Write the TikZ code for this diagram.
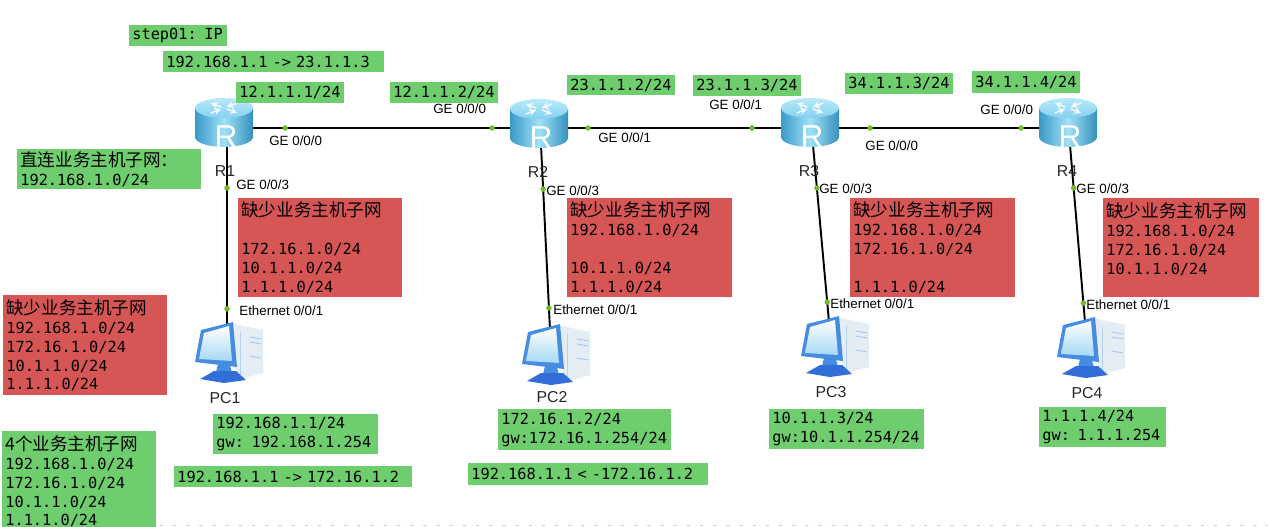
\documentclass[tikz,border=0pt]{standalone}
\usepackage{fontspec}
\setmainfont{Liberation Sans}
\newfontfamily\ipfont{DejaVu Sans Mono}
\newfontfamily\cjk[Scale=1.15]{Noto Sans CJK SC}
\definecolor{boxgreen}{RGB}{110,206,110}
\definecolor{boxred}{RGB}{214,85,85}
\definecolor{dotgreen}{RGB}{110,190,40}
\definecolor{rblue}{RGB}{64,170,222}
\definecolor{rlight}{RGB}{160,225,248}
\definecolor{rtop}{RGB}{185,234,250}
\definecolor{pcblue}{RGB}{70,140,225}
\definecolor{pcscreen}{RGB}{190,235,250}
\definecolor{pctower}{RGB}{228,237,243}
\definecolor{pcbase}{RGB}{50,110,215}
\tikzset{
  router/.pic={
    \shade[left color=rblue!90!black, right color=rblue!85!black, middle color=rlight]
      (-29,-14) -- (-29,15) .. controls (-29,20.5) and (-16,25) .. (0,25)
      .. controls (16,25) and (29,20.5) .. (29,15) -- (29,-14) -- cycle;
    \shade[top color=rtop, bottom color=rlight!70!rblue] (0,-14) ellipse (0.58cm and 0.2cm);
    \draw[white, line width=0.7pt, ->] (-3,-15) -- (-13,-19);
    \draw[white, line width=0.7pt, ->] (3,-13) -- (13,-9);
    \draw[white, line width=0.7pt, ->] (-13,-9) -- (-3,-13);
    \draw[white, line width=0.7pt, ->] (13,-19) -- (3,-15);
    \node[font=\fontsize{18}{18}\selectfont, text=white, inner sep=0pt] (-R) at (2,15) {R};
  },
  pcicon/.pic={
    % tower
    \fill[pctower] (3,-29) -- (35,-22) -- (35,21) -- (12,27) -- (8,20) -- cycle;
    \draw[pcblue!50, line width=0.5pt] (22,-15) -- (33,-13) (22,-10) -- (33,-8) (22,4) -- (33,6);
    \draw[pcblue!40, line width=0.5pt] (12,27) -- (12,-20);
    % monitor
    \fill[pcblue] (-27,-22) -- (5,-30) -- (9,15) -- (-33,10) -- cycle;
    \shade[top color=white, bottom color=pcscreen!80!pcblue] (-24,-19) -- (1,-26) -- (4,9) -- (-29,7) -- cycle;
    % stand and base
    \fill[pcblue] (-10,12) -- (2,13) -- (4,21) -- (-12,20) -- cycle;
    \fill[pcbase] (-28,27) -- (-14,19) -- (8,19) -- (18,28) -- (-4,31) -- cycle;
  }
}
\begin{document}
\begin{tikzpicture}[x=0.02cm, y=-0.02cm, line join=round, line cap=round, >=stealth,
    netbox/.style={anchor=north west, inner xsep=0.06cm, inner ysep=0pt, align=left,
      font=\ipfont\fontsize{8.7}{10.8}\selectfont},
    greenbox/.style={netbox, fill=boxgreen},
    redbox/.style={netbox, fill=boxred},
    iflabel/.style={anchor=west, inner sep=0pt, font=\fontsize{7.6}{8}\selectfont},
    devlabel/.style={inner sep=0pt, text=black!85, font=\fontsize{9}{10}\selectfont},
    ifdot/.style={circle, fill=dotgreen, inner sep=0pt, minimum size=0.11cm},
    link/.style={line width=1.1pt}]
  \path[fill=white, use as bounding box] (0,0) rectangle (1268,527);

  % link ends
  \coordinate (R1) at (224,128);
  \coordinate (R2) at (539,128);
  \coordinate (R3) at (810,128);
  \coordinate (R4) at (1068,128);
  \coordinate (R1d) at (227,145);
  \coordinate (R2d) at (541,145);
  \coordinate (R3d) at (813,145);
  \coordinate (R4d) at (1070,145);
  \coordinate (PC1u) at (227,330);
  \coordinate (PC2u) at (550,330);
  \coordinate (PC3u) at (829,322);
  \coordinate (PC4u) at (1085,322);

  % links
  \draw[link] (R1) -- node[ifdot, pos=.194] (r1g0) {} node[ifdot, pos=.851] (r2g0) {} (R2);
  \draw[link] (R2) -- node[ifdot, pos=.181] (r2g1) {} node[ifdot, pos=.786] (r3g1) {} (R3);
  \draw[link] (R3) -- node[ifdot, pos=.233] (r3g0) {} node[ifdot, pos=.818] (r4g0) {} (R4);
  \draw[link] (R1d) -- node[ifdot, pos=.232] (r1g3) {} node[ifdot, pos=.886] (pc1e) {} (PC1u);
  \draw[link] (R2d) -- node[ifdot, pos=.238] (r2g3) {} node[ifdot, pos=.881] (pc2e) {} (PC2u);
  \draw[link] (R3d) -- node[ifdot, pos=.243] (r3g3) {} node[ifdot, pos=.887] (pc3e) {} (PC3u);
  \draw[link] (R4d) -- node[ifdot, pos=.243] (r4g3) {} node[ifdot, pos=.893] (pc4e) {} (PC4u);

  % devices
  \pic (rt1) at (224,122) {router};
  \pic (rt2) at (539,123) {router};
  \pic (rt3) at (810,122) {router};
  \pic (rt4) at (1068,122) {router};
  \pic (pc1) at (228,352) {pcicon};
  \pic (pc2) at (555,354) {pcicon};
  \pic (pc3) at (834,346) {pcicon};
  \pic (pc4) at (1090,347) {pcicon};
  \node[devlabel] (lr1) at (225,171) {R1};
  \node[devlabel] (lr2) at (538,172) {R2};
  \node[devlabel] (lr3) at (809,171) {R3};
  \node[devlabel] (lr4) at (1067,171) {R4};
  \node[devlabel] (lpc1) at (225,398) {PC1};
  \node[devlabel] (lpc2) at (552,397) {PC2};
  \node[devlabel] (lpc3) at (831,392) {PC3};
  \node[devlabel] (lpc4) at (1087,393) {PC4};

  % interface names
  \node[iflabel] (t1) at (269,141) {GE 0/0/0};
  \node[iflabel] (t2) at (433,109) {GE 0/0/0};
  \node[iflabel] (t3) at (598,138) {GE 0/0/1};
  \node[iflabel] (t4) at (709,105) {GE 0/0/1};
  \node[iflabel] (t5) at (865,146) {GE 0/0/0};
  \node[iflabel] (t6) at (980,110) {GE 0/0/0};
  \node[iflabel] (t7) at (236,185) {GE 0/0/3};
  \node[iflabel] (t8) at (546,191) {GE 0/0/3};
  \node[iflabel] (t9) at (819,189) {GE 0/0/3};
  \node[iflabel] (t10) at (1076,189) {GE 0/0/3};
  \node[iflabel] (t11) at (239,311) {Ethernet 0/0/1};
  \node[iflabel] (t12) at (553,310) {Ethernet 0/0/1};
  \node[iflabel] (t13) at (830,304) {Ethernet 0/0/1};
  \node[iflabel] (t14) at (1086,305) {Ethernet 0/0/1};

  % green notes
  \node[greenbox, text width=1.84cm, minimum height=0.42cm] (step) at (129,25) {step01: IP};
  \node[greenbox, text width=4.30cm, minimum height=0.42cm] (path1) at (163,51) {192.168.1.1 -> 23.1.1.3};
  \node[greenbox, text width=2.04cm, minimum height=0.42cm] (ip12a) at (236,82) {12.1.1.1/24};
  \node[greenbox, text width=2.04cm, minimum height=0.42cm] (ip12b) at (390,82) {12.1.1.2/24};
  \node[greenbox, text width=2.04cm, minimum height=0.40cm] (ip23a) at (567,75) {23.1.1.2/24};
  \node[greenbox, text width=2.04cm, minimum height=0.42cm] (ip23b) at (693,75) {23.1.1.3/24};
  \node[greenbox, text width=2.04cm, minimum height=0.42cm] (ip34a) at (845,73) {34.1.1.3/24};
  \node[greenbox, text width=2.04cm, minimum height=0.44cm] (ip34b) at (972,71) {34.1.1.4/24};
  \node[greenbox, text width=3.56cm, minimum height=0.80cm] (direct) at (17,149) {{\cjk 直连业务主机子网：}\\192.168.1.0/24};
  \node[greenbox, text width=3.18cm, minimum height=0.80cm] (pc1ip) at (213,414) {192.168.1.1/24\\gw: 192.168.1.254};
  \node[greenbox, text width=3.34cm, minimum height=0.82cm] (pc2ip) at (498,409) {172.16.1.2/24\\gw:172.16.1.254/24};
  \node[greenbox, text width=2.98cm, minimum height=0.80cm] (pc3ip) at (769,409) {10.1.1.3/24\\gw:10.1.1.254/24};
  \node[greenbox, text width=2.42cm, minimum height=0.80cm] (pc4ip) at (1039,407) {1.1.1.4/24\\gw: 1.1.1.254};
  \node[greenbox, text width=4.64cm, minimum height=0.42cm] (ping1) at (174,466) {192.168.1.1 -> 172.16.1.2};
  \node[greenbox, text width=4.68cm, minimum height=0.44cm] (ping2) at (468,463) {192.168.1.1 < -172.16.1.2};
  \node[greenbox, text width=2.96cm, minimum height=2.00cm] (allnets) at (2,431) {{\cjk 4个业务主机子网}\\192.168.1.0/24\\172.16.1.0/24\\10.1.1.0/24\\1.1.1.0/24};

  % red notes
  \node[redbox, text width=3.16cm, minimum height=1.98cm] (miss1) at (238,198) {{\cjk 缺少业务主机子网}\\\mbox{}\\172.16.1.0/24\\10.1.1.0/24\\1.1.1.0/24};
  \node[redbox, text width=3.18cm, minimum height=1.98cm] (miss2) at (567,198) {{\cjk 缺少业务主机子网}\\192.168.1.0/24\\\mbox{}\\10.1.1.0/24\\1.1.1.0/24};
  \node[redbox, text width=3.18cm, minimum height=1.98cm] (miss3) at (850,198) {{\cjk 缺少业务主机子网}\\192.168.1.0/24\\172.16.1.0/24\\\mbox{}\\1.1.1.0/24};
  \node[redbox, text width=3.00cm, minimum height=1.98cm] (miss4) at (1103,198) {{\cjk 缺少业务主机子网}\\192.168.1.0/24\\172.16.1.0/24\\10.1.1.0/24\\\mbox{}};
  \node[redbox, text width=3.16cm, minimum height=2.00cm] (missall) at (3,295) {{\cjk 缺少业务主机子网}\\192.168.1.0/24\\172.16.1.0/24\\10.1.1.0/24\\1.1.1.0/24};

  \draw[gray!40, dash pattern=on 1.5pt off 6pt] (160,525) -- (1268,525);
\end{tikzpicture}
\end{document}
